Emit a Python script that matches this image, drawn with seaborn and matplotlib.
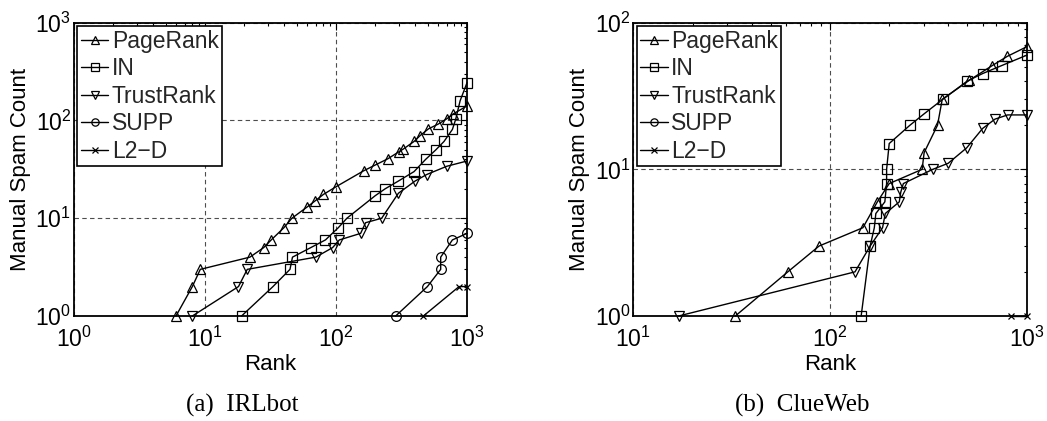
import matplotlib
matplotlib.use("Agg")
import matplotlib.pyplot as plt
import seaborn as sns
import numpy as np
from matplotlib.ticker import LogLocator, LogFormatterMathtext, NullFormatter

sns.set_theme(style="white")
plt.rcParams['font.family'] = ['Liberation Sans', 'DejaVu Sans']
plt.rcParams['mathtext.fontset'] = 'custom'
plt.rcParams['mathtext.rm'] = 'Liberation Sans'
plt.rcParams['mathtext.it'] = 'Liberation Sans:italic'
plt.rcParams['mathtext.bf'] = 'Liberation Sans:bold'

# ---------------- data: (a) IRLbot ----------------
irl_pr_x = [6, 8, 9.2, 22, 28, 32, 40, 46, 60, 69, 80, 100, 162, 199, 248, 303, 326, 394, 438, 507, 604, 700, 787, 1000]
irl_pr_y = [1, 2, 3, 4, 5, 6, 8, 10, 13, 15, 17.5, 21, 30.5, 35, 40.5, 48, 51, 61, 70, 82, 92, 104, 117, 141]
irl_in_x = [19, 33, 44.5, 46.5, 64, 83, 104, 121, 199, 237, 299, 394, 483, 577, 667, 773, 819, 885, 1000]
irl_in_y = [1, 2, 3, 4, 5, 6, 8, 10, 17, 20, 24, 30, 40, 50, 61, 81, 103, 159, 244]
irl_tr_x = [8, 18, 21, 70, 94, 106, 154, 168, 223, 299, 401, 492, 700, 1000]
irl_tr_y = [1, 2, 3, 4, 5, 6, 7, 9, 10, 18, 24, 28, 34, 38.5]
irl_supp_x = [285, 498, 629, 629, 773, 1000]
irl_supp_y = [1, 2, 3, 4, 6, 7]
irl_l2d_x = [464, 869, 1000]
irl_l2d_y = [1, 2, 2]

# ---------------- data: (b) ClueWeb ----------------
cw_pr_x = [33, 61, 88, 147, 174, 200, 294, 301, 352, 372, 511, 668, 798, 1000]
cw_pr_y = [1, 2, 3, 4, 6, 8, 10, 13, 20, 30, 40.5, 51, 59, 68.5]
cw_in_x = [144, 160, 168, 171, 190, 194, 194, 200, 255, 302, 374, 499, 597, 746, 1000]
cw_in_y = [1, 3, 4, 5, 6, 8, 10, 15, 20, 24, 30, 40, 45, 51, 60]
cw_tr_x = [17, 134, 160, 185, 191, 225, 229, 236, 333, 399, 495, 597, 690, 800, 1000]
cw_tr_y = [1, 2, 3, 4, 5, 6, 7, 8, 10, 11, 14, 19, 22, 23.5, 23.5]
cw_supp_x = []
cw_supp_y = []
cw_l2d_x = [829, 1000]
cw_l2d_y = [1, 1]

names = ["PageRank", "IN", "TrustRank", "SUPP", "L2\u2212D"]
markers = ["^", "s", "v", "o", "x"]

panels = [
    dict(series=[(irl_pr_x, irl_pr_y), (irl_in_x, irl_in_y), (irl_tr_x, irl_tr_y),
                 (irl_supp_x, irl_supp_y), (irl_l2d_x, irl_l2d_y)],
         xlim=(1, 1000), ylim=(1, 1000), caption="(a)  IRLbot"),
    dict(series=[(cw_pr_x, cw_pr_y), (cw_in_x, cw_in_y), (cw_tr_x, cw_tr_y),
                 (cw_supp_x, cw_supp_y), (cw_l2d_x, cw_l2d_y)],
         xlim=(10, 1000), ylim=(1, 100), caption="(b)  ClueWeb"),
]

fig = plt.figure(figsize=(10.47, 4.21), dpi=100)
axes_rects = [[0.0707, 0.2494, 0.3754, 0.6967], [0.6049, 0.2494, 0.3757, 0.6967]]
caption_x = [0.2316, 0.7665]

for rect, p, cx in zip(axes_rects, panels, caption_x):
    ax = fig.add_axes(rect)
    ax.set_facecolor("white")
    for (xs, ys), nm, mk in zip(p["series"], names, markers):
        ms = 7 if mk != "x" else 5
        if len(xs) > 0:
            sns.lineplot(x=xs, y=ys, ax=ax, color="black", marker=mk, markersize=ms,
                         mfc="none", mec="black", mew=0.9, linewidth=1.0,
                         estimator=None, sort=False, label=nm, clip_on=False)
        else:
            ax.plot(xs, ys, color="black", marker=mk, markersize=ms, mfc="none",
                    mec="black", mew=0.9, linewidth=1.0, label=nm)
    ax.set_xscale("log")
    ax.set_yscale("log")
    ax.set_xlim(*p["xlim"])
    ax.set_ylim(*p["ylim"])
    for ax_ in (ax.xaxis, ax.yaxis):
        ax_.set_major_locator(LogLocator(base=10, numticks=10))
        ax_.set_major_formatter(LogFormatterMathtext())
        ax_.set_minor_locator(LogLocator(base=10, subs=np.arange(2, 10), numticks=20))
        ax_.set_minor_formatter(NullFormatter())
    ax.grid(True, which="major", linestyle=(0, (4, 3)), color="0.3", linewidth=0.8)
    ax.tick_params(which="both", direction="in", top=True, right=True, colors="black",
                   labelsize=16.5, width=0.8)
    ax.tick_params(which="major", length=5)
    ax.tick_params(which="minor", length=2.5)
    ax.tick_params(axis="x", pad=8)
    ax.tick_params(axis="y", pad=2)
    for s in ax.spines.values():
        s.set_color("black")
        s.set_linewidth(1.3)
    ax.set_xlabel("Rank", fontsize=16, labelpad=1, color="black")
    ax.set_ylabel("Manual Spam Count", fontsize=16, labelpad=3, color="black")
    leg = ax.legend(loc="upper left", fontsize=16.5, frameon=True, fancybox=False,
                    framealpha=1, edgecolor="black", borderpad=0.15, labelspacing=0.2,
                    handlelength=1.2, handletextpad=0.15, borderaxespad=0.15,
                    markerscale=0.75)
    leg.get_frame().set_linewidth(1.2)
    fig.text(cx, 0.038, p["caption"], ha="center", va="center", fontsize=18,
             family="Liberation Serif", color="black")

fig.savefig("out.png", dpi=100)
